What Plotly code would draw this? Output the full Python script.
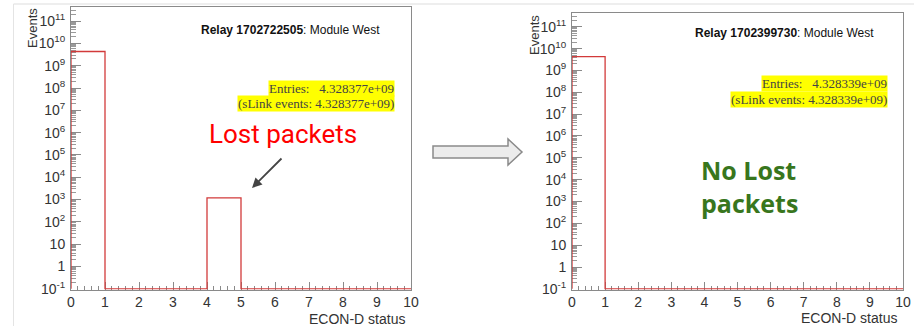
import numpy as np
import plotly.graph_objects as go

W, H = 914, 326

# ---- histogram data: ECON-D status, 10 unit bins ----
bin_edges = list(range(0, 11))
counts_before = [4328375800, 0, 0, 0, 1200, 0, 0, 0, 0, 0]
counts_after = [4328339000, 0, 0, 0, 0, 0, 0, 0, 0, 0]

relay_before = "1702722505"
relay_after = "1702399730"
entries_before = "4.328377e+09"
entries_after = "4.328339e+09"

x_tick_vals = list(range(0, 11))
y_tick_exps = list(range(-1, 12))
y_tick_text = ["10<sup>-1</sup>", "1", "10"] + [f"10<sup>{e}</sup>" for e in range(2, 12)]

LOG_MIN, LOG_MAX = -1.03, 11.63
FLOOR = 10 ** -1

HIST_RED = "#d23a3a"
AXIS_GREY = "#8a8a8a"
TEXT_DARK = "#333333"


def px(x):
    return x / W


def py(y):
    return 1 - y / H


def step_xy(edges, counts):
    c = np.maximum(np.asarray(counts, dtype=float), FLOOR)
    xs = [edges[0]] + list(edges) + [edges[-1]]
    ys = [FLOOR] + list(c) + [c[-1], FLOOR]
    return xs, ys


fig = go.Figure()

for counts, xa, ya in [(counts_before, "x", "y"), (counts_after, "x2", "y2")]:
    xs, ys = step_xy(bin_edges, counts)
    fig.add_trace(go.Scatter(
        x=xs, y=ys, mode="lines", line=dict(color=HIST_RED, width=1.3, shape="hv"),
        xaxis=xa, yaxis=ya, showlegend=False, hoverinfo="skip"))

minor_y = [k * 10.0 ** e for e in range(-1, 12) for k in range(2, 10)]

xaxis_common = dict(
    range=[0, 10], tickmode="array", tickvals=x_tick_vals,
    ticks="inside", ticklen=8, tickwidth=1, tickcolor=AXIS_GREY,
    minor=dict(dtick=0.2, tick0=0, ticks="inside", ticklen=4, tickcolor=AXIS_GREY, showgrid=False),
    showline=True, linecolor=AXIS_GREY, linewidth=1, mirror=True,
    showgrid=False, zeroline=False, layer="below traces", automargin=False,
    tickfont=dict(family="Liberation Sans, Arial", size=14, color=TEXT_DARK),
    fixedrange=True,
)
yaxis_common = dict(
    type="log", range=[LOG_MIN, LOG_MAX], tickmode="array",
    tickvals=[10.0 ** e for e in y_tick_exps], ticktext=y_tick_text,
    ticks="inside", ticklen=10, tickwidth=1, tickcolor=AXIS_GREY,
    minor=dict(tickmode="array", tickvals=minor_y, ticks="inside", ticklen=5,
               tickcolor="#9a9a9a", showgrid=False),
    showline=True, linecolor=AXIS_GREY, linewidth=1, mirror=True,
    showgrid=False, zeroline=False, layer="below traces", automargin=False,
    tickfont=dict(family="Liberation Sans, Arial", size=14, color=TEXT_DARK),
    ticklabelstandoff=2,
    fixedrange=True,
)

fig.update_layout(
    template="none",
    width=W, height=H, margin=dict(l=0, r=0, t=0, b=0, autoexpand=False),
    paper_bgcolor="white", plot_bgcolor="white",
    xaxis=dict(domain=[px(71), px(411)], anchor="y", **xaxis_common),
    yaxis=dict(domain=[py(289.5), py(7)], anchor="x", **yaxis_common),
    xaxis2=dict(domain=[px(572), px(903)], anchor="y2", **xaxis_common),
    yaxis2=dict(domain=[py(289.5), py(13)], anchor="x2", **yaxis_common),
)

ann = []
sans = "Liberation Sans, Arial, Helvetica"
serif = "Liberation Serif, Times New Roman, serif"
NB = "\u00a0"

panels = [
    dict(relay=relay_before, entries=entries_before, title_r=382, title_y=30,
         stat_r=395, stat_y1=88.5, stat_y2=103.5, ytitle_x=32, ytitle_top=6,
         xtitle_r=407, xtitle_y=319),
    dict(relay=relay_after, entries=entries_after, title_r=876, title_y=33,
         stat_r=888, stat_y1=83.5, stat_y2=99, ytitle_x=534, ytitle_top=13,
         xtitle_r=899, xtitle_y=318),
]

for p in panels:
    ann.append(dict(
        text=f"<b>Relay {p['relay']}</b>: Module West", x=px(p["title_r"]), y=py(p["title_y"]),
        xref="paper", yref="paper", xanchor="right", yanchor="middle", showarrow=False,
        font=dict(family=sans, size=12, color="#111111")))
    ann.append(dict(
        text=f"Entries:{NB}{NB}{NB}{p['entries']}", x=px(p["stat_r"]), y=py(p["stat_y1"]),
        xref="paper", yref="paper", xanchor="right", yanchor="middle", showarrow=False,
        bgcolor="#ffff00", borderpad=0,
        font=dict(family=serif, size=13, color="#444444")))
    ann.append(dict(
        text=f"(sLink events: {p['entries']})", x=px(p["stat_r"]), y=py(p["stat_y2"]),
        xref="paper", yref="paper", xanchor="right", yanchor="middle", showarrow=False,
        bgcolor="#ffff00", borderpad=0,
        font=dict(family=serif, size=13, color="#444444")))
    ann.append(dict(
        text="Events", x=px(p["ytitle_x"]), y=py(p["ytitle_top"]),
        xref="paper", yref="paper", xanchor="center", yanchor="top", showarrow=False,
        textangle=-90,
        font=dict(family="Liberation Sans Narrow, Liberation Sans, Arial", size=13, color=TEXT_DARK)))
    ann.append(dict(
        text="ECON-D status", x=px(p["xtitle_r"]), y=py(p["xtitle_y"]),
        xref="paper", yref="paper", xanchor="right", yanchor="middle", showarrow=False,
        font=dict(family=sans, size=14, color=TEXT_DARK)))

# callouts
ann.append(dict(
    text="Lost packets", x=px(283), y=py(134), xref="paper", yref="paper",
    xanchor="center", yanchor="middle", showarrow=False,
    font=dict(family="Roboto, Open Sans, sans-serif", size=26, color="#ff0000")))
ann.append(dict(
    text="", x=px(252), y=py(188), xref="paper", yref="paper",
    ax=31, ay=-31, showarrow=True, arrowhead=2, arrowsize=1.1, arrowwidth=1.8,
    arrowcolor="#444444"))
ann.append(dict(
    text="No Lost<br>packets", x=px(749), y=py(186), xref="paper", yref="paper",
    xanchor="center", yanchor="middle", align="left", showarrow=False,
    font=dict(family="Open Sans, sans-serif", size=25, color="#38761d", weight=700)))

fig.update_layout(annotations=ann)

# block arrow between the two canvases
arrow_pts = [(433, 146), (508, 146), (508, 139), (522, 152), (508, 165), (508, 158), (433, 158)]
path = "M " + " L ".join(f"{px(x):.5f},{py(y):.5f}" for x, y in arrow_pts) + " Z"
shapes = [
    dict(type="path", path=path, xref="paper", yref="paper",
         fillcolor="#ececec", line=dict(color="#8a8a8a", width=1.5)),
    # canvas border lines
    dict(type="line", x0=px(13.5), x1=1, y0=py(4), y1=py(4), xref="paper", yref="paper",
         line=dict(color="#dddddd", width=1)),
    dict(type="line", x0=px(13.5), x1=px(13.5), y0=py(4), y1=0, xref="paper", yref="paper",
         line=dict(color="#e4e4e4", width=1)),
]
fig.update_layout(shapes=shapes)

fig.write_html("out.html")
